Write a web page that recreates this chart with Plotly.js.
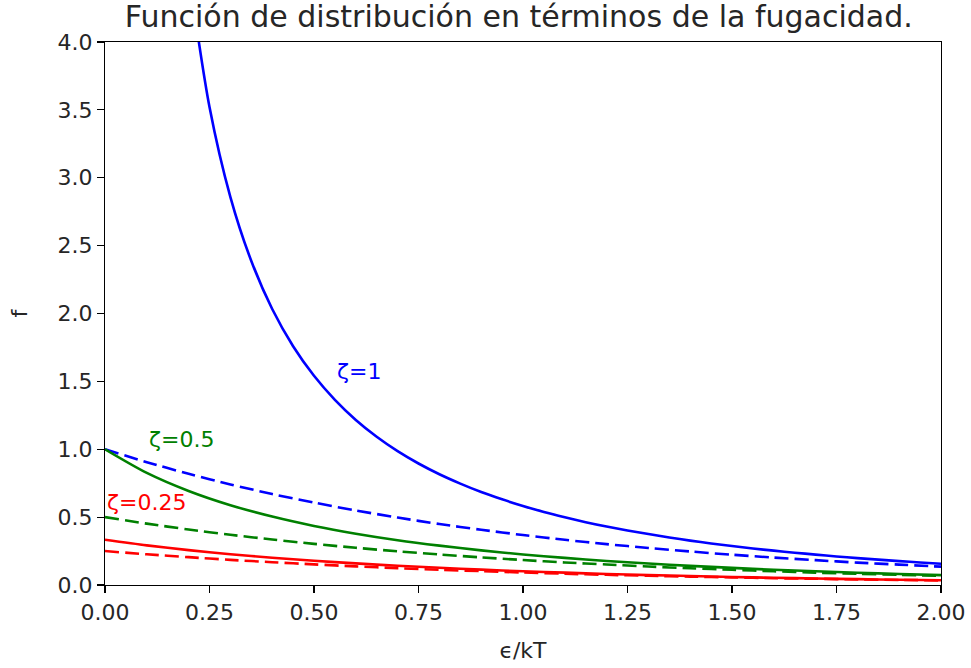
<!DOCTYPE html>
<html>
<head>
<meta charset="utf-8">
<script src="https://cdn.plot.ly/plotly-3.0.1.min.js"></script>
<style>html,body{margin:0;padding:0;background:#fff;}#chart{width:971px;height:668px;}</style>
</head>
<body>
<div id="chart"></div>
<script>
// x values (ε/kT)
const xGrid = [0.0,0.1,0.2,0.3,0.4,0.5,0.6,0.7,0.8,0.9,1.0,1.1,1.2,1.3,1.4,1.5,1.6,1.7,1.8,1.9,2.0];
const xBlueSolid = [0.2,0.25,0.3,0.35,0.4,0.45,0.5,0.55,0.6,0.65,0.7,0.75,0.8,0.85,0.9,0.95,1.0,1.05,1.1,1.15,1.2,1.25,1.3,1.35,1.4,1.45,1.5,1.55,1.6,1.65,1.7,1.75,1.8,1.85,1.9,1.95,2.0];

// ζ=1
const fBlueSolid = [4.517,3.521,2.858,2.387,2.033,1.759,1.541,1.364,1.216,1.092,0.986,0.895,0.816,0.747,0.685,0.631,0.582,0.538,0.499,0.463,0.431,0.402,0.375,0.350,0.327,0.306,0.287,0.269,0.253,0.238,0.224,0.210,0.198,0.187,0.176,0.166,0.157];
const fBlueDashed = [1.000,0.905,0.819,0.741,0.670,0.607,0.549,0.497,0.449,0.407,0.368,0.333,0.301,0.273,0.247,0.223,0.202,0.183,0.165,0.150,0.135];
// ζ=0.5
const fGreenSolid = [1.000,0.826,0.693,0.588,0.504,0.435,0.378,0.330,0.290,0.255,0.225,0.200,0.177,0.158,0.141,0.126,0.112,0.101,0.090,0.081,0.073];
const fGreenDashed = [0.500,0.452,0.409,0.370,0.335,0.303,0.274,0.248,0.225,0.203,0.184,0.166,0.151,0.136,0.123,0.112,0.101,0.091,0.083,0.075,0.068];
// ζ=0.25
const fRedSolid = [0.333,0.292,0.257,0.227,0.201,0.179,0.159,0.142,0.127,0.113,0.101,0.091,0.081,0.073,0.066,0.059,0.053,0.048,0.043,0.039,0.035];
const fRedDashed = [0.250,0.226,0.205,0.185,0.168,0.152,0.137,0.124,0.112,0.102,0.092,0.083,0.075,0.068,0.062,0.056,0.050,0.046,0.041,0.037,0.034];

const labels = ["ζ=1","ζ=0.5","ζ=0.25"];
const labelX = [0.55,0.10,0.0];
const labelY = [1.5,1.0,0.54];

const BLUE = "#0000ff", GREEN = "#008000", RED = "#ff0000";
const colors = [BLUE, GREEN, RED];
const LW = 2.6;
const DASH = "14px,6px";

function tr(x, y, color, dash) {
  return {x: x, y: y, type: "scatter", mode: "lines", line: {color: color, width: LW, dash: dash, shape: "spline", smoothing: 0.8}, showlegend: false, hoverinfo: "x+y"};
}

const data = [
  tr(xBlueSolid, fBlueSolid, BLUE, "solid"),
  tr(xGrid, fBlueDashed, BLUE, DASH),
  tr(xGrid, fGreenSolid, GREEN, "solid"),
  tr(xGrid, fGreenDashed, GREEN, DASH),
  tr(xGrid, fRedSolid, RED, "solid"),
  tr(xGrid, fRedDashed, RED, DASH)
];

const FONT = "DejaVu Sans, sans-serif";
const TXT = "#262626";
const annotations = labels.map((t, i) => ({
  x: labelX[i], y: labelY[i], xref: "x", yref: "y", text: t, showarrow: false,
  xanchor: "left", yanchor: "bottom", yshift: -5, xshift: 0,
  font: {family: FONT, size: 22, color: colors[i]}
}));

const axisCommon = {
  showline: true, linecolor: "#000", linewidth: 1.2, mirror: true,
  ticks: "outside", ticklen: 7, tickwidth: 1.2, tickcolor: "#000",
  showgrid: false, zeroline: false,
  tickfont: {family: FONT, size: 22, color: TXT}
};

const layout = {
  width: 971, height: 668,
  margin: {l: 105, r: 30, t: 42, b: 83},
  paper_bgcolor: "#fff", plot_bgcolor: "#fff",
  title: {text: "Función de distribución en términos de la fugacidad.", x: 0.495, xanchor: "center", xref: "paper", y: 0.976, yref: "container", yanchor: "middle",
          font: {family: FONT, size: 30, color: TXT}},
  xaxis: Object.assign({}, axisCommon, {range: [0, 2], tick0: 0, dtick: 0.25, tickformat: ".2f",
          title: {text: "ϵ/kT", font: {family: FONT, size: 22, color: TXT}, standoff: 19}}),
  yaxis: Object.assign({}, axisCommon, {range: [0, 4], tick0: 0, dtick: 0.5, tickformat: ".1f",
          title: {text: "f", font: {family: FONT, size: 22, color: TXT}, standoff: 23}}),
  annotations: annotations
};

Plotly.newPlot("chart", data, layout, {displayModeBar: false, staticPlot: true});
</script>
</body>
</html>
